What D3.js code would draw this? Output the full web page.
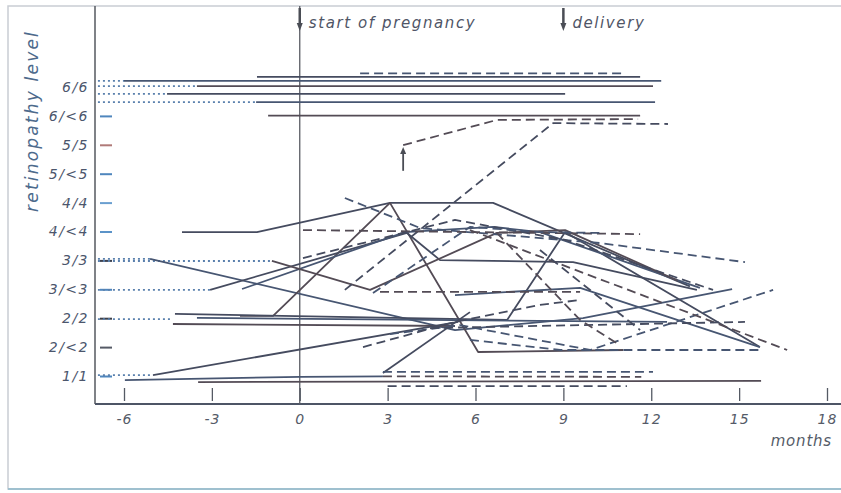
<!DOCTYPE html>
<html>
<head>
<meta charset="utf-8">
<script src="https://cdn.jsdelivr.net/npm/d3@7"></script>
<style>
  body { margin: 0; background: #fff; }
  svg text { font-family: "DejaVu Sans", sans-serif; font-style: italic; }
</style>
</head>
<body>
<svg id="chart"></svg>
<script>
// axis values
const monthTicks = [-6, -3, 0, 3, 6, 9, 12, 15, 18];
const levelLabels = ["1/1", "2/<2", "2/2", "3/<3", "3/3", "4/<4", "4/4", "5/<5", "5/5", "6/<6", "6/6"];
const levelValues = d3.range(1, 12);
const events = [{month: 0, label: "start of pregnancy"}, {month: 9, label: "delivery"}];
const arrowUp = {month: 3.53, from: 8.1, to: 8.92};

// dotted lead-ins (before observation), [month, level]
const dottedLeads = [
  [[-6.89, 11.21], [-6.0, 11.21]],
  [[-6.89, 11.03], [-3.51, 11.03]],
  [[-6.89, 10.76], [-4.53, 10.76]],
  [[-6.89, 10.48], [-1.49, 10.48]],
  [[-6.89, 5.05], [-5.11, 5.05]],
  [[-6.89, 4.98], [-0.95, 4.98]],
  [[-6.89, 3.98], [-3.06, 3.98]],
  [[-6.89, 2.97], [-4.33, 2.97]],
  [[-6.89, 1.03], [-5.01, 1.03]]
];

// solid patient courses
const solidTraces = [
  [[-1.46, 11.35], [11.62, 11.35]],
  [[-6.0, 11.21], [12.34, 11.21]],
  [[-3.51, 11.03], [12.06, 11.03]],
  [[-4.53, 10.76], [9.06, 10.76]],
  [[-1.49, 10.48], [12.13, 10.48]],
  [[-1.08, 10.01], [11.62, 10.01]],
  [[-4.02, 5.98], [-1.46, 5.98], [3.08, 6.99], [6.6, 6.99], [13.32, 4.1]],
  [[-5.11, 5.05], [5.3, 2.59], [9.67, 3.0], [14.76, 4.01]],
  [[-2.04, 3.08], [-0.91, 3.08], [3.08, 6.99], [6.09, 1.83], [11.04, 1.9]],
  [[-4.26, 3.15], [7.08, 2.94], [9.06, 5.98], [15.71, 2.0]],
  [[-3.51, 3.01], [12.54, 2.87]],
  [[-4.33, 2.8], [5.3, 2.73]],
  [[-3.06, 3.98], [3.66, 5.95], [4.79, 5.01], [9.33, 4.94], [13.56, 3.98]],
  [[-1.97, 4.01], [3.59, 5.98], [6.6, 6.16], [8.2, 5.98], [13.66, 4.05]],
  [[-0.95, 4.98], [2.4, 3.98], [6.73, 5.95], [9.06, 6.05], [12.9, 4.3]],
  [[-5.01, 1.03], [5.41, 2.87]],
  [[-5.97, 0.86], [0.01, 0.97], [2.84, 0.99]],
  [[-3.47, 0.79], [15.75, 0.83]],
  [[2.84, 1.1], [5.81, 3.21]],
  [[5.3, 3.8], [9.57, 4.05], [15.71, 2.0]]
];

// dashed patient courses
const dashedTraces = [
  [[2.06, 11.47], [11.1, 11.47]],
  [[3.53, 8.99], [6.73, 9.86], [11.55, 9.89]],
  [[1.54, 3.98], [8.65, 9.75], [12.57, 9.72]],
  [[1.54, 7.16], [4.11, 6.12], [10.25, 5.6], [15.2, 4.94]],
  [[0.11, 6.05], [11.62, 5.91]],
  [[0.11, 5.08], [5.3, 6.4], [9.06, 5.71], [14.11, 3.98]],
  [[3.08, 2.45], [5.47, 2.76], [9.91, 1.9], [16.16, 3.98]],
  [[5.81, 6.05], [16.64, 1.9]],
  [[4.45, 2.66], [15.2, 2.87]],
  [[5.81, 2.25], [8.89, 1.9], [15.78, 1.9]],
  [[2.74, 3.91], [9.57, 3.91]],
  [[2.16, 2.0], [5.3, 2.87], [8.2, 3.46], [9.57, 3.63]],
  [[2.5, 3.87], [5.81, 6.16], [8.2, 5.98], [10.25, 5.95]],
  [[6.73, 5.95], [9.57, 2.94], [10.93, 2.07]],
  [[8.2, 5.36], [11.62, 2.59]],
  [[2.84, 1.14], [12.06, 1.14]],
  [[2.84, 0.99], [11.66, 0.97]],
  [[3.0, 0.65], [11.17, 0.65]]
];

const tickColors = ["#4f86bd", "#555a66", "#3d3f48", "#4f86bd", "#3d4150", "#5b93c8", "#6a9fd0", "#4f86bd", "#b07a78", "#4f86bd"];
const inkColors = ["#454b5f", "#475672", "#534b55"];

const W = 841, H = 493;
const svg = d3.select("#chart").attr("width", W).attr("height", H);

const x = d3.scaleLinear().domain([-6, 18]).range([124, 827]);
const y = d3.scaleLinear().domain([1, 11]).range([376, 87]);
const plotTop = 6, plotBottom = 404, plotLeft = 95;

// scan frame
svg.append("rect").attr("x", 8).attr("y", 6).attr("width", W).attr("height", 483)
  .attr("fill", "none").attr("stroke", "#c9cdd3").attr("stroke-width", 1.5);
svg.append("line").attr("x1", 8).attr("x2", W).attr("y1", 489).attr("y2", 489)
  .attr("stroke", "#9fc0cf").attr("stroke-width", 2);

// axes frame lines
svg.append("line").attr("x1", plotLeft).attr("x2", plotLeft).attr("y1", plotTop).attr("y2", plotBottom)
  .attr("stroke", "#55585f").attr("stroke-width", 1.5);
svg.append("line").attr("x1", plotLeft).attr("x2", W).attr("y1", plotBottom).attr("y2", plotBottom)
  .attr("stroke", "#4d5566").attr("stroke-width", 2);
svg.append("line").attr("x1", x(0)).attr("x2", x(0)).attr("y1", plotTop).attr("y2", plotBottom)
  .attr("stroke", "#5a5d64").attr("stroke-width", 1.3);

// y ticks (short marks inside) and labels
const yTicks = svg.append("g").attr("transform", "translate(100,0)")
  .call(d3.axisRight(y).tickValues(levelValues.slice(0, 10)).tickSize(12).tickFormat(""));
yTicks.select(".domain").remove();
yTicks.selectAll(".tick line").attr("stroke", (d, i) => tickColors[i]).attr("stroke-width", 2);

const yLabels = svg.append("g").attr("transform", `translate(${plotLeft},0)`)
  .call(d3.axisLeft(y).tickValues(levelValues).tickSize(0).tickPadding(6).tickFormat(d => levelLabels[d - 1]));
yLabels.select(".domain").remove();
yLabels.selectAll("text").attr("font-size", 14).attr("fill", "#4c566c").attr("letter-spacing", 1.5)
  .style("font-family", "DejaVu Sans");

svg.append("text").attr("transform", `translate(38,121) rotate(-90)`)
  .attr("text-anchor", "middle").attr("font-size", 17).attr("letter-spacing", 2.2)
  .attr("fill", "#4d6a8c").text("retinopathy level");

// x ticks and labels
const xTicks = svg.append("g").attr("transform", `translate(0,${plotBottom - 3})`)
  .call(d3.axisTop(x).tickValues(monthTicks).tickSize(13).tickFormat(""));
xTicks.select(".domain").remove();
xTicks.selectAll(".tick line").attr("stroke", "#555a64").attr("stroke-width", 1.3);

const xLabels = svg.append("g").attr("transform", `translate(0,${plotBottom})`)
  .call(d3.axisBottom(x).tickValues(monthTicks).tickSize(0).tickPadding(10).tickFormat(d => String(d)));
xLabels.select(".domain").remove();
xLabels.selectAll("text").attr("font-size", 14).attr("fill", "#555b68").attr("letter-spacing", 1)
  .style("font-family", "DejaVu Sans");

svg.append("text").attr("x", 832).attr("y", 446).attr("text-anchor", "end")
  .attr("font-size", 15).attr("letter-spacing", 0.8).attr("fill", "#555b68").text("months");

// event markers at top
events.forEach(e => {
  const ex = x(e.month);
  svg.append("line").attr("x1", ex).attr("x2", ex).attr("y1", 8).attr("y2", 24)
    .attr("stroke", "#4a4d55").attr("stroke-width", 2.5);
  svg.append("path").attr("d", `M${ex - 3},23 L${ex + 3},23 L${ex},31 Z`).attr("fill", "#4a4d55");
  svg.append("text").attr("x", ex + 9).attr("y", 28).attr("font-size", 15).attr("letter-spacing", 1.6)
    .attr("fill", "#4f5566").text(e.label);
});

// up arrow annotation
const ax = x(arrowUp.month);
svg.append("line").attr("x1", ax).attr("x2", ax).attr("y1", y(arrowUp.from)).attr("y2", y(arrowUp.to) + 5)
  .attr("stroke", "#4a4d55").attr("stroke-width", 1.8);
svg.append("path").attr("d", `M${ax - 3},${y(arrowUp.to) + 7} L${ax + 3},${y(arrowUp.to) + 7} L${ax},${y(arrowUp.to)} Z`)
  .attr("fill", "#4a4d55");

// traces
const line = d3.line().x(d => x(d[0])).y(d => y(d[1]));
const traces = svg.append("g").attr("fill", "none").attr("stroke-linejoin", "round");

traces.selectAll(".lead").data(dottedLeads).join("path").attr("class", "lead")
  .attr("d", line).attr("stroke", "#5a80ad").attr("stroke-width", 1.8).attr("stroke-dasharray", "2,3");

traces.selectAll(".solid").data(solidTraces).join("path").attr("class", "solid")
  .attr("d", line).attr("stroke", (d, i) => inkColors[i % 3]).attr("stroke-width", 1.8);

traces.selectAll(".dashed").data(dashedTraces).join("path").attr("class", "dashed")
  .attr("d", line).attr("stroke", (d, i) => inkColors[(i + 1) % 3]).attr("stroke-width", 1.8)
  .attr("stroke-dasharray", "9,5");
</script>
</body>
</html>
